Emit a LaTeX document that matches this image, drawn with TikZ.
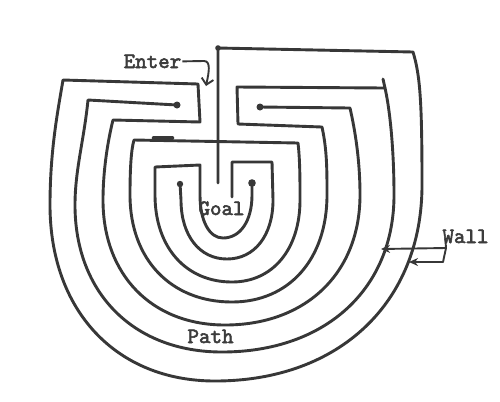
\documentclass[tikz,border=0pt]{standalone}
\usepackage{fontspec}
\newfontfamily\typew{lmmono10-regular}[Extension=.otf,FakeBold=2.5]
\usetikzlibrary{arrows.meta}
\definecolor{ink}{RGB}{55,55,55}
\definecolor{txt}{RGB}{60,60,60}
\begin{document}
\begin{tikzpicture}[x=1bp,y=-1bp,
  wall/.style={draw=ink,line width=2.9bp,line join=round,line cap=round},
  lbl/.style={inner sep=0pt,anchor=base,text=txt,font=\fontsize{22}{26}\selectfont\typew},
  pointer/.style={draw=ink,line width=1.9bp,line join=round},
  enddot/.style={fill=ink}]
\useasboundingbox[fill=white] (0,0) rectangle (500,401);

% wall 1: from the stub beside the goal, round the outside, then the third ring
\draw[wall] (218,183) -- (218,48) -- (413,52)
  .. controls (420,75) and (422,100) .. (422,185)
  .. controls (422,302.6) and (339.2,381) .. (215,381)
  .. controls (116,381) and (50,310.6) .. (50,205)
  .. controls (50,150) and (58,110) .. (63,80)
  -- (198,84) -- (200,122) -- (113,120)
  .. controls (108,140) and (103,170) .. (103,200)
  .. controls (103,275) and (151.8,325) .. (225,325)
  .. controls (306,325) and (360,273) .. (360,195)
  .. controls (360,160) and (355,130) .. (350,108)
  -- (260,107);

% wall 2
\draw[wall] (177,105) -- (88,100)
  .. controls (84,140) and (75,170) .. (75,205)
  .. controls (75,293.2) and (133.8,352) .. (222,352)
  .. controls (325.2,352) and (394,289.2) .. (394,195)
  .. controls (394,150) and (390,110) .. (385,88)
  -- (237,87) -- (238,124) -- (322,127)
  .. controls (327,150) and (327,170) .. (327,195)
  .. controls (327,259.2) and (289,302) .. (232,302)
  .. controls (170.8,302) and (130,259.2) .. (130,195)
  .. controls (130,170) and (131,150) .. (134,140)
  -- (298,143)
  .. controls (300,160) and (300,180) .. (300,200)
  .. controls (300,249.2) and (272.8,282) .. (232,282)
  .. controls (185.8,282) and (155,247.2) .. (155,195)
  -- (155,167) -- (200,165) -- (200,195)
  .. controls (200,220.8) and (209.2,238) .. (223,238)
  .. controls (240.4,238) and (252,220.8) .. (252,195)
  -- (252,183);
\draw[wall] (383,79) -- (385,88);

% wall 3
\draw[wall] (180,183) -- (181,200)
  .. controls (181,235.4) and (199.4,259) .. (227,259)
  .. controls (254.6,259) and (273,235.4) .. (273,200)
  -- (272,162) -- (232,162) -- (232,197);

% thick spot and wall ends
\draw[wall,line width=4.6bp] (154,138) -- (172,138);
\fill[enddot] (177,105) circle (3.5bp);
\fill[enddot] (260,107) circle (3.5bp);
\fill[enddot] (252,183) circle (3.8bp);
\fill[enddot] (180,184) circle (3.2bp);
\fill[enddot] (218,48) circle (2.8bp);

% labels
\node[lbl] (enter) at (152.5,68) {Enter};
\node[lbl] (goal) at (221.5,215) {Goal};
\node[lbl] (path) at (210.5,343) {Path};
\node[lbl] (wallt) at (465.5,243) {Wall};

\coordinate (etip) at (206,86);
\coordinate (wj) at (446,248);
\coordinate (wtipa) at (381,249);
\coordinate (wtipb) at (409,262);

\draw[pointer,-{Straight Barb[length=6bp,width=12bp]}] ([xshift=1bp]enter.east) -- (204,61) .. controls (211,61) and (209,72) .. (etip);
\draw[pointer] ([shift={(3,-5)}]wallt.south west) -- (wj);
\draw[pointer,-{Stealth[length=9bp,width=8bp]}] (wj) -- (wtipa);
\draw[pointer,-{Stealth[length=9bp,width=8bp]}] (wj) -- (443,262) -- (wtipb);
\end{tikzpicture}
\end{document}
